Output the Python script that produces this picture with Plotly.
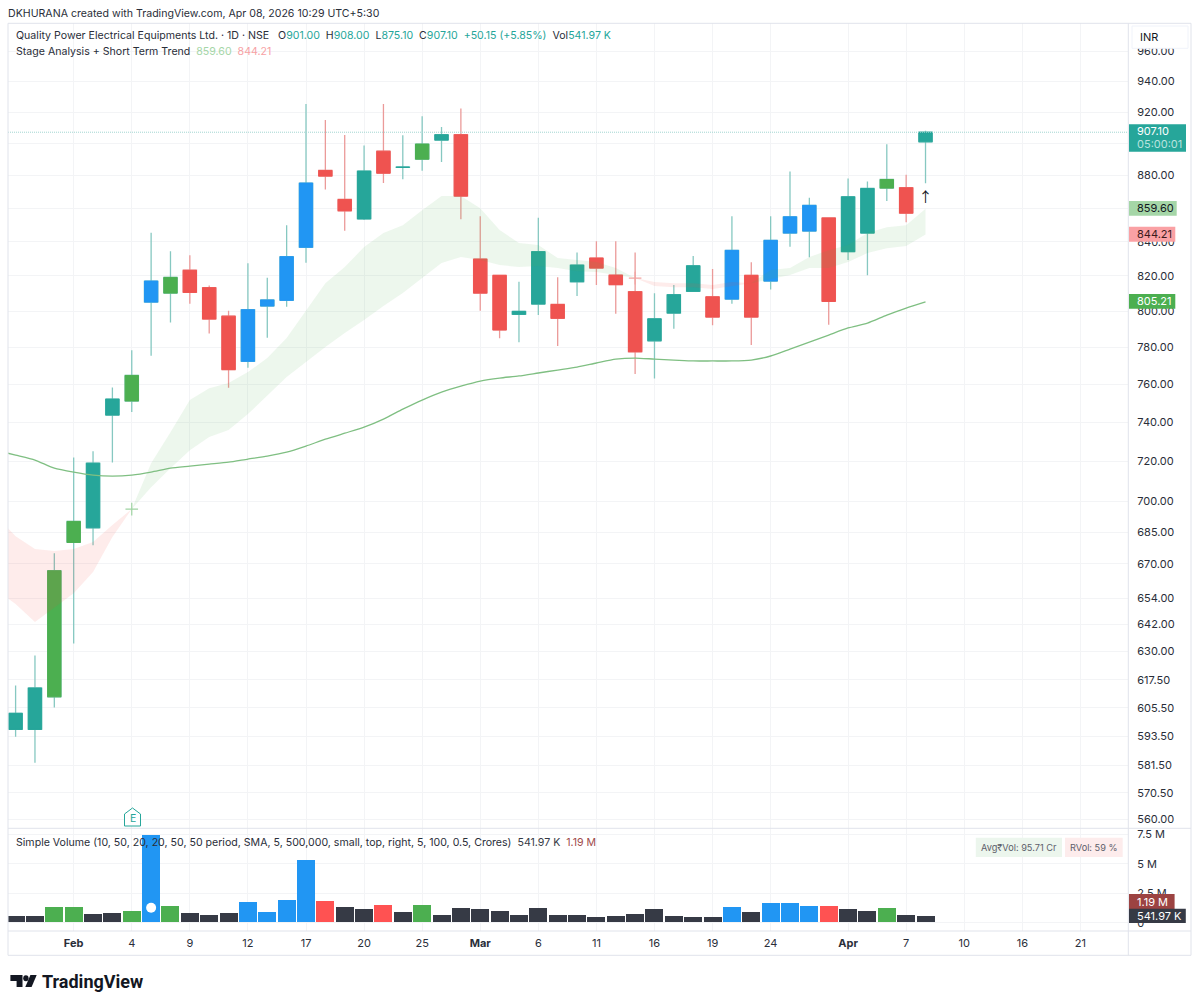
import math
import plotly.graph_objects as go

W, H = 1200, 1007

# ---- data -----------------------------------------------------------------
opens  = [596.4,596.4,610.2,680.1,687.1,743.7,751.1,805.1,810.2,823.3,813.3,797.2,772.3,802.9,806.1,836.7,
          883.1,865.3,853.5,895.1,885.0,890.1,902.1,905.5,829.8,820.4,798.2,804.0,803.8,816.7,830.4,820.5,
          811.0,783.5,798.9,811.2,808.1,806.8,820.4,817.1,845.1,846.3,854.1,834.1,845.1,872.2,872.4,901.0]
highs  = [615.1,628.2,674.9,721.9,725.0,758.3,778.4,845.3,834.3,832.0,814.6,800.2,827.3,819.0,849.7,925.2,
          914.9,905.3,898.7,925.2,905.1,917.4,910.5,922.4,855.2,820.6,816.7,854.2,819.3,833.7,840.2,840.2,
          833.7,810.1,814.8,831.6,824.0,855.2,827.9,855.2,882.5,866.3,854.5,878.1,876.3,899.4,880.4,908.0]
lows   = [593.3,582.6,605.7,633.5,678.7,719.4,745.3,775.3,793.7,804.2,787.6,758.1,768.8,785.2,802.5,827.7,
          871.4,846.5,852.9,875.3,877.7,882.9,888.4,853.3,800.2,784.9,782.7,797.8,780.6,808.5,814.8,798.5,
          765.4,763.1,790.2,811.0,792.1,804.2,781.2,812.3,837.0,830.8,792.4,829.2,820.4,864.3,851.5,875.1]
closes = [603.2,614.0,666.7,690.2,719.0,752.1,764.7,817.1,819.2,810.6,795.6,767.8,800.8,806.3,831.2,875.3,
          879.6,858.4,882.7,881.4,885.1,899.6,905.5,867.3,810.2,789.5,799.9,834.1,796.0,826.3,824.6,815.0,
          777.5,795.7,809.3,825.9,796.7,834.9,796.7,840.8,854.8,861.7,805.5,866.9,872.0,877.5,857.0,907.1]
body_groups = ["teal","teal","green","green","teal","teal","green","blue","green","red","red","red","blue","blue","blue","blue",
               "red","red","teal","red","teal","green","teal","red","red","red","teal","teal","red","teal","red","red",
               "red","teal","teal","teal","red","blue","red","blue","blue","blue","red","teal","teal","green","red","teal"]

# band and long average start one bar before the first visible candle
band_index = list(range(-1, 48))
ema_fast = [657.7,651.3,643.1,649.5,656.3,666.1,682.7,696.2,719.0,734.8,751.6,757.9,760.6,766.5,774.1,785.0,800.6,
            815.9,825.2,836.8,845.1,849.8,858.8,867.3,867.3,860.0,846.9,839.2,838.0,830.4,829.2,828.1,824.6,
            818.8,814.2,813.6,813.6,812.5,814.2,815.9,823.4,824.6,831.0,835.0,838.0,845.1,848.6,849.8,859.6]
ema_slow = [692.8,683.1,676.9,676.0,676.9,680.3,688.4,696.2,707.0,716.5,725.6,732.3,735.9,744.2,754.2,763.8,771.9,
            780.1,787.8,795.0,802.9,810.2,818.8,827.5,831.0,829.2,826.3,825.2,825.7,824.6,822.8,822.3,820.5,
            818.8,816.5,815.9,815.9,814.8,816.5,815.9,818.2,820.5,824.6,824.6,828.1,833.3,836.2,837.4,844.21]
sma_long = [725.5,723.1,720.6,716.5,714.5,713.0,712.5,713.0,714.5,716.5,717.5,718.5,719.5,721.1,722.6,724.6,727.7,
            731.2,734.3,737.4,741.6,746.8,751.6,755.8,759.0,761.7,763.3,764.4,766.0,767.6,769.2,771.4,773.5,
            774.1,773.5,773.0,772.5,772.5,772.5,773.0,775.2,779.0,782.8,786.7,790.6,793.3,797.8,801.7,805.21]

volumes = [0.54,0.54,1.27,1.27,0.71,0.76,0.99,7.43,1.38,0.82,0.65,0.82,1.75,0.88,1.92,5.31,
           1.84,1.27,1.13,1.44,0.88,1.44,0.65,1.21,1.16,0.93,0.65,1.21,0.65,0.59,0.48,0.54,
           0.71,1.10,0.54,0.48,0.48,1.30,0.85,1.64,1.64,1.41,1.41,1.13,0.99,1.24,0.65,0.542]
volume_groups = ["dark","dark","green","green","dark","dark","green","blue","green","dark","dark","dark","blue","blue","blue","blue",
                 "red","dark","dark","red","dark","green","dark","dark","dark","dark","dark","dark","dark","dark","dark","dark",
                 "dark","dark","dark","dark","dark","blue","dark","blue","blue","blue","red","dark","dark","green","dark","dark"]

time_ticks = [3,6,9,12,15,18,21,24,27,30,33,36,39,43,46,49,52,55]
time_labels = ["<b>Feb</b>","4","9","12","17","20","25","<b>Mar</b>","6","11","16","19","24","<b>Apr</b>","7","10","16","21"]
price_ticks = [960,940,920,900,880,860,840,820,800,780,760,740,720,700,685,670,654,642,630,617.5,605.5,593.5,581.5,570.5,560]
price_labels_hidden = [900, 860]  # their labels sit fully behind the price tags
volume_ticks = [0,2.5,5,7.5]
volume_labels = ["0","2.5 M","5 M","7.5 M"]

last_price = 907.1
cross_bars = [6, 32]
cross_prices = [696.2, 818.8]
earnings_dot = (7, 1.27)
arrow_point = (47, 866.0)

# ---- styles ----------------------------------------------------------------
COL = {"teal":"#26a69a","green":"#4caf50","blue":"#2196f3","red":"#ef5350","dark":"#363a45"}
VCOL = dict(COL, red="#ff5252")
GRID = "#f3f4f6"
FRAME = "#e0e3eb"
TXT = "#131722"
FONT = "Inter"

LEFT, AXIS_X, RIGHT = 8, 1128.3, 1191
TOP, PANE_Y, VOL_Y, BOTTOM = 23.3, 828.3, 931, 955.3
BAR0, BAR_STEP = 15.6, 19.36

def fx(px): return px / W
def fy(py): return 1 - py / H

x_range = [(LEFT - BAR0) / BAR_STEP, (AXIS_X - BAR0) / BAR_STEP]
bars = list(range(len(opens)))

fig = go.Figure()

# ---- band --------------------------------------------------------------------
def band(start, end, color):
    a, b = start + 1, end + 2
    xs = band_index[a:b]
    fig.add_trace(go.Scatter(x=xs, y=ema_slow[a:b], mode="lines", line=dict(width=0, color="rgba(0,0,0,0)"), hoverinfo="skip"))
    fig.add_trace(go.Scatter(x=xs, y=ema_fast[a:b], mode="lines", line=dict(width=0, color="rgba(0,0,0,0)"), fill="tonexty", fillcolor=color, hoverinfo="skip"))

RED_BAND, GREEN_BAND = "rgba(244,67,54,0.10)", "rgba(76,175,80,0.10)"
band(-1, 6, RED_BAND)
band(6, 32, GREEN_BAND)
band(32, 38, RED_BAND)
band(38, 47, GREEN_BAND)

fig.add_trace(go.Scatter(x=band_index, y=sma_long, mode="lines", line=dict(color="#7fbf82", width=1.3, shape="spline", smoothing=0.6), hoverinfo="skip"))

# last price line
fig.add_trace(go.Scatter(x=x_range, y=[last_price, last_price], mode="lines",
                         line=dict(color="#a3d6d1", width=1, dash="1px,1px"), hoverinfo="skip"))

# ---- candles: wicks first, bodies by colour on top ----------------------------
fig.add_trace(go.Candlestick(x=bars, open=opens, high=highs, low=lows, close=closes, whiskerwidth=0,
                             increasing=dict(line=dict(color="#86c8c1", width=1.3), fillcolor="rgba(0,0,0,0)"),
                             decreasing=dict(line=dict(color="#eb9a99", width=1.3), fillcolor="rgba(0,0,0,0)"),
                             hoverinfo="skip"))
for name in ["teal","green","blue","red"]:
    sel = [g == name for g in body_groups]
    o = [v if s else None for v, s in zip(opens, sel)]
    c = [v if s else None for v, s in zip(closes, sel)]
    hi = [max(a, b) if s else None for a, b, s in zip(opens, closes, sel)]
    lo = [min(a, b) if s else None for a, b, s in zip(opens, closes, sel)]
    fig.add_trace(go.Candlestick(x=bars, open=o, high=hi, low=lo, close=c, whiskerwidth=0,
                                 increasing=dict(line=dict(color=COL[name], width=1), fillcolor=COL[name]),
                                 decreasing=dict(line=dict(color=COL[name], width=1), fillcolor=COL[name]),
                                 hoverinfo="skip"))

# crosses and arrow
fig.add_trace(go.Scatter(x=[cross_bars[0]], y=[cross_prices[0]], mode="markers", hoverinfo="skip",
                         marker=dict(symbol="cross-thin", size=9, line=dict(color="#9fd3a2", width=1.2))))
fig.add_trace(go.Scatter(x=[cross_bars[1]], y=[cross_prices[1]], mode="markers", hoverinfo="skip",
                         marker=dict(symbol="cross-thin", size=9, line=dict(color="#f2a5a3", width=1.2))))
fig.add_trace(go.Scatter(x=[arrow_point[0]], y=[arrow_point[1]], mode="text", text=["↑"], hoverinfo="skip",
                         textfont=dict(family="Noto Sans CJK SC", size=14, color=TXT)))

# ---- volume --------------------------------------------------------------------
fig.add_trace(go.Bar(x=bars, y=[v * 1e6 for v in volumes], xaxis="x2", yaxis="y2", width=0.93,
                     marker=dict(color=[VCOL[g] for g in volume_groups], line=dict(width=0)), hoverinfo="skip"))
fig.add_trace(go.Scatter(x=[earnings_dot[0]], y=[earnings_dot[1] * 1e6], xaxis="x2", yaxis="y2", mode="markers",
                         marker=dict(color="white", size=10), hoverinfo="skip"))

# ---- chrome ----------------------------------------------------------------------
shapes = []
def rect(x0, y0, x1, y1, fill, line=None, layer="above"):
    shapes.append(dict(type="rect", xref="paper", yref="paper", x0=fx(x0), x1=fx(x1), y0=fy(y1), y1=fy(y0),
                       fillcolor=fill, line=dict(color=line or fill, width=1 if line else 0), layer=layer))
def hline(y, x0=LEFT, x1=RIGHT):
    shapes.append(dict(type="line", xref="paper", yref="paper", x0=fx(x0), x1=fx(x1), y0=fy(y), y1=fy(y),
                       line=dict(color=FRAME, width=1), layer="above"))
def vline(x, y0=TOP, y1=BOTTOM):
    shapes.append(dict(type="line", xref="paper", yref="paper", x0=fx(x), x1=fx(x), y0=fy(y0), y1=fy(y1),
                       line=dict(color=FRAME, width=1), layer="above"))
def path(points, fill, line=None, close=True):
    d = " ".join(("M" if i == 0 else "L") + f"{fx(px):.5f},{fy(py):.5f}" for i, (px, py) in enumerate(points))
    shapes.append(dict(type="path", xref="paper", yref="paper", path=d + (" Z" if close else ""), fillcolor=fill,
                       line=dict(color=line or fill, width=1 if line else 0), layer="above"))

annotations = []
def label(x, y, text, size=12, color=TXT, anchor="left", family=FONT):
    annotations.append(dict(xref="paper", yref="paper", x=fx(x), y=fy(y), text=text, showarrow=False,
                            xanchor=anchor, yanchor="middle", align="left", borderpad=0, borderwidth=0,
                            font=dict(family=family, size=size, color=color)))

for v in [TOP, PANE_Y, VOL_Y, BOTTOM]:
    hline(v)
vline(LEFT); vline(AXIS_X); vline(RIGHT)

# price scale labels
rect(1132, 26, 1188, 48.3, "white", "#f0f3fa")
label(1139.5, 37.5, "INR", 11)

rect(1129, 124.3, 1186, 151.7, COL["teal"])
label(1136.5, 131.5, "907.10", 11, "white")
label(1136.5, 144, "05:00:01", 11, "#b9e3de")
rect(1129, 201, 1176.7, 215.7, "#a5d6a7")
label(1136.5, 208.4, "859.60", 11, TXT)
rect(1129, 226.7, 1175.3, 241.7, "#faa1a4")
label(1136.5, 234.3, "844.21", 11, "#3a1a1c")
rect(1129, 294, 1175.3, 308.7, COL["green"])
label(1136.5, 301.2, "805.21", 11, "white")
rect(1129, 894, 1174.6, 909, "#9c4342")
label(1136.5, 901.7, "1.19 M", 11, "white")
rect(1129, 908.7, 1185.8, 922.9, COL["dark"])
label(1136.5, 916, "541.97 K", 11, "white")

# title and legends
TEAL = COL["teal"]
def tv(s): return f'<span style="color:{TEAL}">{s}</span>'
label(8, 13.3, "DKHURANA created with TradingView.com, Apr 08, 2026 10:29 UTC+5:30", 10.6, "#2a2e39")
label(16, 36, "Quality Power Electrical Equipments Ltd. · 1D · NSE&nbsp;&nbsp;&nbsp;O" + tv("901.00") + "&nbsp;&nbsp;H" + tv("908.00")
      + "&nbsp;&nbsp;L" + tv("875.10") + "&nbsp;&nbsp;C" + tv("907.10") + "&nbsp;&nbsp;" + tv("+50.15 (+5.85%)") + "&nbsp;&nbsp;Vol" + tv("541.97 K"),
      10.6, "#2a2e39")
label(16, 51, 'Stage Analysis + Short Term Trend&nbsp;&nbsp;<span style="color:#a5d6a7">859.60</span>&nbsp;&nbsp;<span style="color:#f7a1a4">844.21</span>',
      10.6, "#2a2e39")
label(16, 842, 'Simple Volume (10, 50, 20, 20, 50, 50 period, SMA, 5, 500,000, small, top, right, 5, 100, 0.5, Crores)&nbsp;&nbsp;'
      '<span style="color:#363a45">541.97 K</span>&nbsp;&nbsp;<span style="color:#a04a4a">1.19 M</span>', 10.6, "#2a2e39")

# status boxes
rect(975.8, 837.7, 1062, 857, "#ecf6ed")
label(1018.9, 847.5, "Avg₹Vol: 95.71 Cr", 9.2, "#5d606b", anchor="center")
rect(1065, 837.7, 1122.7, 857, "#fdecec")
label(1093.8, 847.5, "RVol: 59 %", 9.2, "#5d606b", anchor="center")

# earnings flag
path([(124.5, 814), (132.5, 808), (140.5, 814), (140.5, 826), (124.5, 826)], "white", TEAL)
label(132.5, 818, "E", 10.5, TEAL, anchor="center")

# TradingView mark
path([(10.4, 975), (22.5, 975), (22.5, 987), (16.6, 987), (16.6, 981), (10.4, 981)], "#131722")
shapes.append(dict(type="circle", xref="paper", yref="paper", x0=fx(23.2), x1=fx(28.6), y0=fy(981.2), y1=fy(975.2),
                   fillcolor="#131722", line=dict(width=0), layer="above"))
path([(30.4, 975), (36.7, 975), (31.6, 987), (25.3, 987)], "#131722")
label(41.5, 981.5, "<b>TradingView</b>", 18, "#131722", family="Roboto")

price_text = ["" if v in price_labels_hidden else f"{v:.2f}" for v in price_ticks]
fig.update_layout(
    width=W, height=H, margin=dict(l=0, r=0, t=0, b=0),
    paper_bgcolor="white", plot_bgcolor="white", showlegend=False,
    font=dict(family=FONT, color=TXT, size=12),
    boxmode="overlay", boxgap=0.17, boxgroupgap=0.17, bargap=0,
    shapes=shapes, annotations=annotations,
    xaxis=dict(domain=[fx(LEFT), fx(AXIS_X)], range=x_range, anchor="y", rangeslider=dict(visible=False),
               tickvals=time_ticks, ticktext=[""] * len(time_ticks), showgrid=True, gridcolor=GRID, gridwidth=1,
               zeroline=False, showline=False, ticks=""),
    yaxis=dict(domain=[fy(PANE_Y), fy(TOP)], type="log", range=[math.log10(556.4), math.log10(979.2)], side="right",
               anchor="x", tickmode="array", tickvals=price_ticks, ticktext=price_text,
               showgrid=True, gridcolor=GRID, gridwidth=1, zeroline=False, showline=False, ticks="",
               ticklabelstandoff=8, tickfont=dict(family=FONT, size=11, color="#2a2e39")),
    xaxis2=dict(domain=[fx(LEFT), fx(AXIS_X)], range=x_range, anchor="y2", tickmode="array", tickvals=time_ticks,
                ticktext=time_labels, showgrid=True, gridcolor=GRID, gridwidth=1, zeroline=False, showline=False,
                ticks="", ticklabelstandoff=4, tickangle=0, tickfont=dict(family=FONT, size=11, color="#2a2e39")),
    yaxis2=dict(domain=[fy(VOL_Y), fy(PANE_Y)], range=[-0.703e6, 8e6], side="right", anchor="x2", tickmode="array",
                tickvals=[v * 1e6 for v in volume_ticks], ticktext=volume_labels, showgrid=True, gridcolor=GRID,
                gridwidth=1, zeroline=False, showline=False, ticks="", ticklabelstandoff=8,
                tickfont=dict(family=FONT, size=11, color="#2a2e39")),
)

fig.write_html("out.html", config={"displayModeBar": False},
               post_script="document.body.style.margin='0';document.documentElement.style.overflow='hidden';")
